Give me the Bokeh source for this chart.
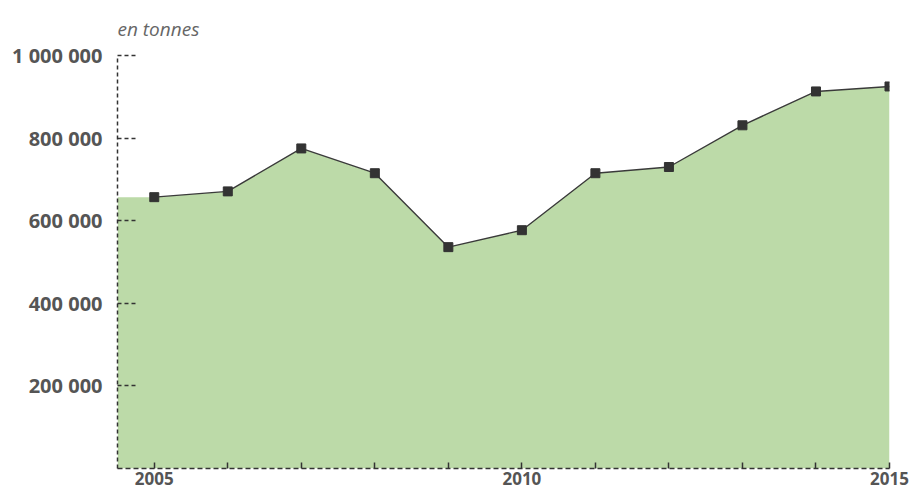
from bokeh.plotting import figure
from bokeh.models import Range1d, FixedTicker, Title
from bokeh.embed import file_html
from bokeh.resources import INLINE

years = [2005, 2006, 2007, 2008, 2009, 2010, 2011, 2012, 2013, 2014, 2015]
tonnes = [657000, 671000, 775000, 715000, 536000, 577000, 715000, 730000, 831000, 913000, 925000]
x_start = 2004.5
y_ticks = [200000, 400000, 600000, 800000, 1000000]
y_tick_labels = ["200 000", "400 000", "600 000", "800 000", "1 000 000"]
x_labelled = [2005, 2010, 2015]
unit_label = "en tonnes"

area_x = [x_start] + years
area_y = [tonnes[0]] + tonnes

p = figure(width=913, height=494, output_backend="svg", toolbar_location=None,
           x_range=Range1d(x_start, 2015), y_range=Range1d(0, 1000000),
           min_border_left=117, min_border_top=55, min_border_right=24, min_border_bottom=26)
p.outline_line_color = None
p.grid.visible = False
p.background_fill_color = None
p.border_fill_color = None

p.add_layout(Title(text=unit_label, align="left", text_font="Open Sans",
                   text_font_style="italic", text_font_size="19px",
                   text_color="#666666", standoff=27), "above")

p.varea(x=area_x, y1=0, y2=area_y, fill_color="#bcdaa8", fill_alpha=1.0)
p.line(years, tonnes, line_color="#3a3a3a", line_width=1.4)
p.scatter(years, tonnes, marker="square", size=9, fill_color="#333333", line_color="#333333")

# y axis
ya = p.yaxis[0]
ya.ticker = FixedTicker(ticks=y_ticks, minor_ticks=[])
ya.major_label_overrides = {t: l for t, l in zip(y_ticks, y_tick_labels)}
ya.axis_line_color = "#333333"
ya.axis_line_width = 1.5
ya.axis_line_dash = "4 3"
ya.major_tick_in = 20
ya.major_tick_out = 0
ya.major_tick_line_dash = "4 3"
ya.major_tick_line_color = "#333333"
ya.major_tick_line_width = 1.5
ya.minor_tick_line_color = None
ya.major_label_standoff = 15
ya.major_label_text_font = "Open Sans"
ya.major_label_text_font_style = "bold"
ya.major_label_text_font_size = "20px"
ya.major_label_text_color = "#555555"

# x axis
xa = p.xaxis[0]
xa.ticker = FixedTicker(ticks=years, minor_ticks=[])
xa.major_label_overrides = {y: (str(y) if y in x_labelled else "") for y in years}
xa.axis_line_color = "#333333"
xa.axis_line_width = 1.5
xa.axis_line_dash = "5 3"
xa.major_tick_in = 6
xa.major_tick_out = 0
xa.major_tick_line_color = "#333333"
xa.major_tick_line_width = 1.5
xa.minor_tick_line_color = None
xa.major_label_standoff = 3
xa.major_label_text_font = "Open Sans"
xa.major_label_text_font_style = "bold"
xa.major_label_text_font_size = "17px"
xa.major_label_text_color = "#555555"

open("out.html", "w").write(file_html(p, INLINE))
